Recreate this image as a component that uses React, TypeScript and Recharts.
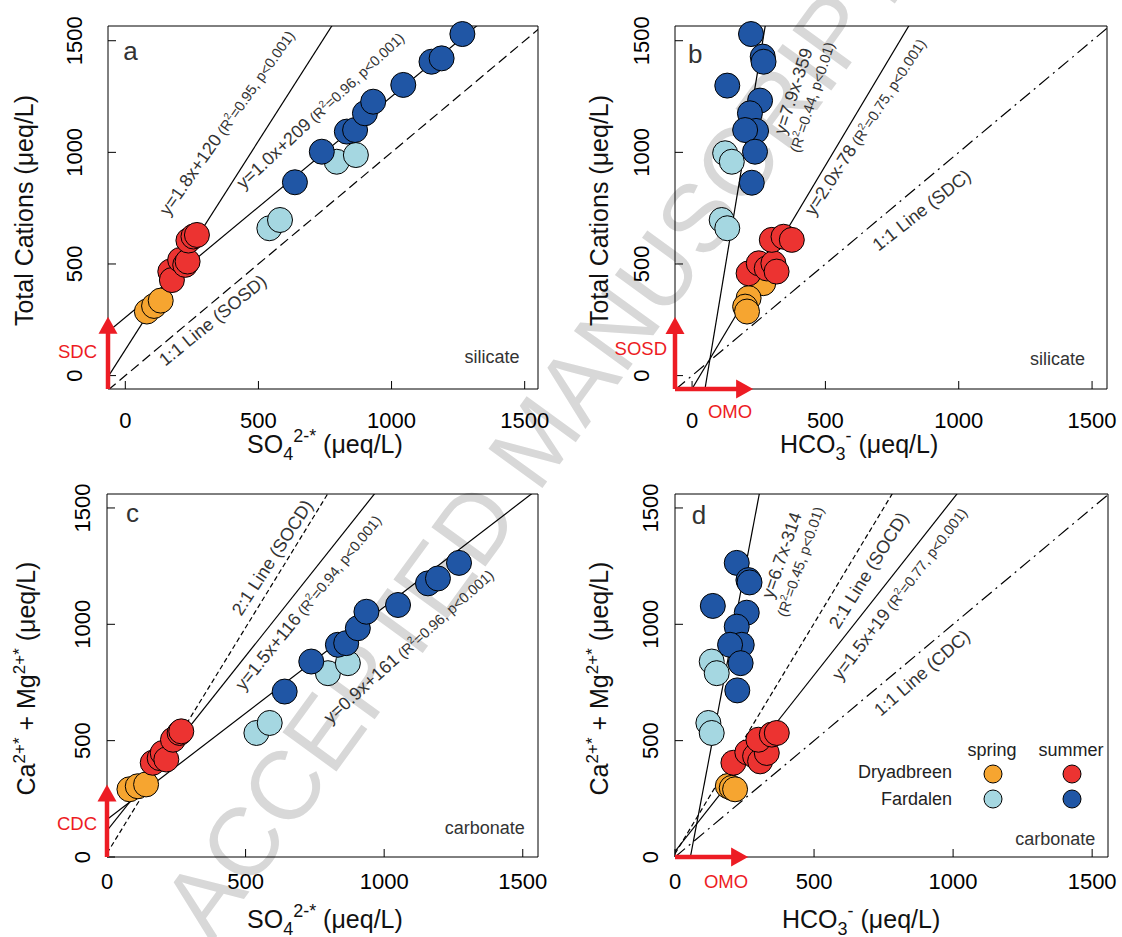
import React from 'react';
import { ScatterChart, Scatter, XAxis, YAxis, ReferenceLine, ReferenceDot, Legend } from 'recharts';

const FONT = '"Liberation Sans", Arial, Helvetica, sans-serif';
const INK = '#333333';
const ARROW_RED = '#ED1C24';

const C_DRY_SPRING = '#F6A530';
const C_DRY_SUMMER = '#EC3331';
const C_FAR_SPRING = '#A5D7E1';
const C_FAR_SUMMER = '#2056A5';

type P = { x: number; y: number };

const axisTicks = [0, 500, 1000, 1500];

// ---------- Panel a : SO4 vs Total cations ----------
const aDrySpring: P[] = [{ x: 81, y: 287 }, { x: 108, y: 312 }, { x: 133, y: 336 }];
const aDrySummer: P[] = [
  { x: 169, y: 466 }, { x: 175, y: 428 }, { x: 206, y: 518 }, { x: 225, y: 496 },
  { x: 234, y: 511 }, { x: 237, y: 605 }, { x: 256, y: 623 }, { x: 269, y: 630 },
];
const aFarSpring: P[] = [{ x: 541, y: 660 }, { x: 581, y: 697 }, { x: 794, y: 958 }, { x: 866, y: 988 }];
const aFarSummer: P[] = [
  { x: 637, y: 866 }, { x: 738, y: 1003 }, { x: 832, y: 1093 }, { x: 863, y: 1100 }, { x: 900, y: 1175 },
  { x: 931, y: 1227 }, { x: 1044, y: 1302 }, { x: 1150, y: 1406 }, { x: 1188, y: 1421 }, { x: 1266, y: 1530 },
];
const aFitDry: P[] = [{ x: -65, y: -6 }, { x: 800, y: 1612 }];
const aFitFar: P[] = [{ x: -65, y: 196 }, { x: 1400, y: 1646 }];
const aOneToOne: P[] = [{ x: -65, y: -65 }, { x: 1600, y: 1600 }];
const aArrowUp: P[] = [{ x: -65, y: -60 }, { x: -65, y: 264 }];

// ---------- Panel b : HCO3 vs Total cations ----------
const bDrySpring: P[] = [{ x: 267, y: 414 }, { x: 212, y: 347 }, { x: 199, y: 309 }, { x: 206, y: 287 }];
const bDrySummer: P[] = [
  { x: 212, y: 458 }, { x: 250, y: 503 }, { x: 280, y: 480 }, { x: 305, y: 503 },
  { x: 317, y: 466 }, { x: 299, y: 608 }, { x: 343, y: 622 }, { x: 374, y: 608 },
];
const bFarSpring: P[] = [{ x: 124, y: 996 }, { x: 149, y: 958 }, { x: 111, y: 697 }, { x: 132, y: 660 }];
const bFarSummer: P[] = [
  { x: 221, y: 1530 }, { x: 265, y: 1429 }, { x: 268, y: 1406 }, { x: 132, y: 1299 }, { x: 255, y: 1232 },
  { x: 217, y: 1175 }, { x: 240, y: 1096 }, { x: 199, y: 1100 }, { x: 236, y: 1003 }, { x: 224, y: 864 },
];
const bFitFar: P[] = [{ x: 47, y: -70 }, { x: 279, y: 1600 }];
const bFitDry: P[] = [{ x: -10, y: -79 }, { x: 840, y: 1621 }];
const bOneToOne: P[] = [{ x: -64, y: -64 }, { x: 1600, y: 1600 }];
const bArrowUp: P[] = [{ x: -64, y: -60 }, { x: -64, y: 263 }];
const bArrowRight: P[] = [{ x: -64, y: -60 }, { x: 229, y: -60 }];

// ---------- Panel c : SO4 vs Ca+Mg ----------
const cDrySpring: P[] = [{ x: 81, y: 291 }, { x: 111, y: 304 }, { x: 141, y: 312 }];
const cDrySummer: P[] = [
  { x: 165, y: 405 }, { x: 190, y: 425 }, { x: 201, y: 447 }, { x: 214, y: 419 },
  { x: 238, y: 504 }, { x: 262, y: 533 }, { x: 268, y: 540 },
];
const cFarSpring: P[] = [{ x: 539, y: 533 }, { x: 587, y: 576 }, { x: 797, y: 790 }, { x: 869, y: 833 }];
const cFarSummer: P[] = [
  { x: 641, y: 711 }, { x: 737, y: 840 }, { x: 833, y: 912 }, { x: 863, y: 919 }, { x: 905, y: 983 },
  { x: 936, y: 1054 }, { x: 1050, y: 1083 }, { x: 1158, y: 1176 }, { x: 1194, y: 1197 }, { x: 1270, y: 1264 },
];
const cTwoToOne: P[] = [{ x: 0, y: 16 }, { x: 830, y: 1626 }];
const cFitDry: P[] = [{ x: 0, y: 113 }, { x: 1010, y: 1628 }];
const cFitFar: P[] = [{ x: 0, y: 161 }, { x: 1600, y: 1623 }];
const cArrowUp: P[] = [{ x: 0, y: 0 }, { x: 0, y: 312 }];

// ---------- Panel d : HCO3 vs Ca+Mg ----------
const dDrySpring: P[] = [{ x: 190, y: 305 }, { x: 204, y: 297 }, { x: 216, y: 291 }];
const dDrySummer: P[] = [
  { x: 210, y: 405 }, { x: 260, y: 450 }, { x: 288, y: 433 }, { x: 306, y: 411 },
  { x: 330, y: 447 }, { x: 300, y: 504 }, { x: 348, y: 526 }, { x: 366, y: 533 },
];
const dFarSpring: P[] = [{ x: 132, y: 840 }, { x: 150, y: 790 }, { x: 120, y: 576 }, { x: 132, y: 533 }];
const dFarSummer: P[] = [
  { x: 222, y: 1264 }, { x: 264, y: 1190 }, { x: 268, y: 1180 }, { x: 136, y: 1079 }, { x: 258, y: 1050 },
  { x: 222, y: 990 }, { x: 240, y: 912 }, { x: 198, y: 912 }, { x: 236, y: 833 }, { x: 224, y: 716 },
];
const dFitFar: P[] = [{ x: 55, y: -2 }, { x: 311, y: 1610 }];
const dTwoToOne: P[] = [{ x: 0, y: 14 }, { x: 810, y: 1618 }];
const dFitDry: P[] = [{ x: 0, y: 24 }, { x: 1050, y: 1615 }];
const dOneToOne: P[] = [{ x: 0, y: 0 }, { x: 1600, y: 1600 }];
const dArrowRight: P[] = [{ x: 0, y: 0 }, { x: 263, y: 0 }];

const seriesNames = ['Dryadbreen spring', 'Dryadbreen summer', 'Fardalen spring', 'Fardalen summer'];
const seriesColors = [C_DRY_SPRING, C_DRY_SUMMER, C_FAR_SPRING, C_FAR_SUMMER];

type LabelSpec = {
  x: number; y: number; angle: number; main: string;
  r2?: string; p?: string; twoLine?: boolean; anchor?: 'start' | 'middle' | 'end';
  size?: number; psize?: number;
};

const Marker = (props: any) => {
  const { cx, cy, color } = props;
  if (cx == null || cy == null) return null;
  return <circle cx={cx} cy={cy} r={12.5} fill={color} stroke="#000" strokeWidth={1} />;
};

function AnnText(props: any) {
  const { viewBox, spec } = props;
  if (!viewBox || !spec) return null;
  const s: LabelSpec = spec;
  const cx = viewBox.x + (viewBox.width || 0) / 2;
  const cy = viewBox.y + (viewBox.height || 0) / 2;
  const size = s.size ?? 18;
  const ps = s.psize ?? 14.5;
  const paren = (r2: string, p: string) => [
    <tspan key="a">{'(R'}</tspan>,
    <tspan key="b" dy={-6} fontSize={ps * 0.68}>2</tspan>,
    <tspan key="c" dy={6}>{`=${r2}, p<${p})`}</tspan>,
  ];
  if (s.twoLine && s.r2 && s.p) {
    return (
      <g transform={`translate(${cx},${cy}) rotate(${s.angle})`}>
        <text textAnchor="middle" fontFamily={FONT} fill={INK}>
          <tspan x={0} y={0} fontSize={size}>{s.main}</tspan>
          <tspan x={0} y={19} fontSize={ps}>{paren(s.r2, s.p)}</tspan>
        </text>
      </g>
    );
  }
  return (
    <g transform={`translate(${cx},${cy}) rotate(${s.angle})`}>
      <text textAnchor={s.anchor ?? 'start'} fontFamily={FONT} fill={INK} fontSize={size}>
        {s.main}
        {s.r2 && s.p ? (
          <tspan fontSize={ps}>
            {' '}
            {paren(s.r2, s.p)}
          </tspan>
        ) : null}
      </text>
    </g>
  );
}

const XTick = (props: any) => {
  const { x, y, payload } = props;
  return (
    <text x={x} y={y} textAnchor="middle" fontSize={22} fontFamily={FONT} fill="#000">
      {payload.value}
    </text>
  );
};

const YTick = (props: any) => {
  const { x, y, payload } = props;
  return (
    <text x={x} y={y} transform={`rotate(-90 ${x} ${y})`} textAnchor="middle" fontSize={22} fontFamily={FONT} fill="#000">
      {payload.value}
    </text>
  );
};

function XTitle(props: any) {
  const { viewBox, kind, dx, dy } = props;
  if (!viewBox) return null;
  const x = viewBox.x + dx;
  const y = viewBox.y + dy;
  if (kind === 'so4') {
    return (
      <text x={x} y={y} fontSize={25} fontFamily={FONT} fill="#111">
        SO<tspan dy={7} fontSize={18}>4</tspan>
        <tspan dy={-18} fontSize={18}>2-*</tspan>
        <tspan dy={11}>{' (\u03bceq/L)'}</tspan>
      </text>
    );
  }
  return (
    <text x={x} y={y} fontSize={25} fontFamily={FONT} fill="#111">
      HCO<tspan dy={7} fontSize={18}>3</tspan>
      <tspan dy={-18} fontSize={18}>-</tspan>
      <tspan dy={11}>{' (\u03bceq/L)'}</tspan>
    </text>
  );
}

function YTitle(props: any) {
  const { viewBox, kind, dx } = props;
  if (!viewBox) return null;
  const x = viewBox.x + viewBox.width + dx;
  const y = viewBox.y + viewBox.height / 2 + 3;
  if (kind === 'tc') {
    return (
      <text x={x} y={y} transform={`rotate(-90 ${x} ${y})`} textAnchor="middle" fontSize={25} fontFamily={FONT} fill="#111">
        {'Total Cations (\u03bceq/L)'}
      </text>
    );
  }
  return (
    <text x={x} y={y} transform={`rotate(-90 ${x} ${y})`} textAnchor="middle" fontSize={25} fontFamily={FONT} fill="#111">
      Ca<tspan dy={-10} fontSize={17}>2+*</tspan>
      <tspan dy={10}>{' + Mg'}</tspan>
      <tspan dy={-10} fontSize={17}>2+*</tspan>
      <tspan dy={10}>{' (\u03bceq/L)'}</tspan>
    </text>
  );
}

const ArrowShape = (props: any) => {
  const { x1, y1, x2, y2, spec } = props;
  if ([x1, y1, x2, y2].some((v) => v == null || isNaN(v))) return null;
  const dx = x2 - x1;
  const dy = y2 - y1;
  const len = Math.hypot(dx, dy) || 1;
  const ux = dx / len;
  const uy = dy / len;
  const hl = 17;
  const hw = 9.5;
  const bx = x2 - ux * hl;
  const by = y2 - uy * hl;
  const px = -uy;
  const py = ux;
  return (
    <g>
      <line x1={x1} y1={y1} x2={bx + ux} y2={by + uy} stroke={ARROW_RED} strokeWidth={4.5} />
      <polygon points={`${x2},${y2} ${bx + px * hw},${by + py * hw} ${bx - px * hw},${by - py * hw}`} fill={ARROW_RED} />
      <text x={x1 + spec.tdx} y={y1 + spec.tdy} textAnchor={spec.anchor} fontSize={18.5} fontFamily={FONT} fill={ARROW_RED}>
        {spec.text}
      </text>
    </g>
  );
};

function LegendBox() {
  const t = { fontSize: 18, fontFamily: FONT, fill: '#222' } as any;
  return (
    <svg width={260} height={80} style={{ overflow: 'visible', display: 'block' }}>
      <text x={142} y={18} textAnchor="middle" {...t}>spring</text>
      <text x={221} y={18} textAnchor="middle" {...t}>summer</text>
      <text x={102} y={40} textAnchor="end" {...t}>Dryadbreen</text>
      <text x={102} y={67} textAnchor="end" {...t}>Fardalen</text>
      <circle cx={143} cy={36} r={9} fill={C_DRY_SPRING} stroke="#000" strokeWidth={1} />
      <circle cx={222} cy={36} r={9} fill={C_DRY_SUMMER} stroke="#000" strokeWidth={1} />
      <circle cx={143} cy={61} r={9} fill={C_FAR_SPRING} stroke="#000" strokeWidth={1} />
      <circle cx={222} cy={61} r={9} fill={C_FAR_SUMMER} stroke="#000" strokeWidth={1} />
    </svg>
  );
}

type ArrowSpec = { pts: P[]; text: string; tdx: number; tdy: number; anchor: string };

type PanelProps = {
  left: number; top: number; w: number; h: number;
  xDomain: [number, number]; yDomain: [number, number];
  data: P[][];
  lines: { pts: P[]; dash?: string }[];
  labels: LabelSpec[];
  arrows: ArrowSpec[];
  xTickMargin: number; yTickMargin: number;
  xKind: string; xDx: number; xDy: number;
  yKind: string; yDx: number;
  legend?: boolean;
};

function Panel(pp: PanelProps) {
  const W = pp.w + 120;
  const H = pp.h + 100;
  return (
    <div style={{ position: 'absolute', left: pp.left - 100, top: pp.top - 20 }}>
      <ScatterChart width={W} height={H} margin={{ top: 19, right: 19, bottom: 0, left: 0 }}>
        <XAxis
          type="number" dataKey="x" domain={pp.xDomain} ticks={axisTicks} interval={0} height={80}
          tickSize={-8} tickMargin={pp.xTickMargin} tick={(p: any) => <XTick {...p} />}
          axisLine={{ stroke: '#000', strokeWidth: 1 }} tickLine={{ stroke: '#000', strokeWidth: 1 }}
          label={<XTitle kind={pp.xKind} dx={pp.xDx} dy={pp.xDy} />}
        />
        <XAxis
          xAxisId="top" orientation="top" type="number" domain={pp.xDomain} allowDataOverflow ticks={axisTicks}
          interval={0} height={1} tickSize={-8} tick={false}
          axisLine={{ stroke: '#000', strokeWidth: 1 }} tickLine={{ stroke: '#000', strokeWidth: 1 }}
        />
        <YAxis
          type="number" dataKey="y" domain={pp.yDomain} ticks={axisTicks} interval={0} width={100}
          tickSize={-8} tickMargin={pp.yTickMargin} tick={(p: any) => <YTick {...p} />}
          axisLine={{ stroke: '#000', strokeWidth: 1 }} tickLine={{ stroke: '#000', strokeWidth: 1 }}
          label={<YTitle kind={pp.yKind} dx={pp.yDx} />}
        />
        <YAxis
          yAxisId="right" orientation="right" type="number" domain={pp.yDomain} allowDataOverflow ticks={axisTicks}
          interval={0} width={1} tickSize={-8} tick={false}
          axisLine={{ stroke: '#000', strokeWidth: 1 }} tickLine={{ stroke: '#000', strokeWidth: 1 }}
        />
        {pp.lines.map((l, i) => (
          <ReferenceLine
            key={`l${i}`} segment={l.pts} ifOverflow="hidden" stroke="#000" strokeWidth={1.2}
            strokeDasharray={l.dash} zIndex={450}
          />
        ))}
        {pp.data.map((d, i) => (
          <Scatter
            key={`s${i}`} name={seriesNames[i]} data={d} fill={seriesColors[i]} isAnimationActive={false}
            shape={(p: any) => <Marker {...p} color={seriesColors[i]} />}
          />
        ))}
        {pp.arrows.map((a, i) => (
          <ReferenceLine
            key={`a${i}`} segment={a.pts} ifOverflow="visible" zIndex={1500}
            shape={(p: any) => <ArrowShape {...p} spec={a} />}
          />
        ))}
        {pp.labels.map((s, i) => (
          <ReferenceDot
            key={`t${i}`} x={s.x} y={s.y} r={0} ifOverflow="visible" fill="none" stroke="none"
            label={<AnnText spec={s} />}
          />
        ))}
        {pp.legend ? (
          <Legend
            layout="horizontal" verticalAlign="middle" align="center"
            content={() => <LegendBox />}
            wrapperStyle={{ position: 'absolute', left: 275, top: 264, width: 260, height: 80 }}
          />
        ) : null}
      </ScatterChart>
    </div>
  );
}

export default function App() {
  return (
    <div style={{ position: 'absolute', left: 0, top: 0, width: 1122, height: 937, background: '#fff', overflow: 'hidden' }}>
      <svg width={1122} height={937} style={{ position: 'absolute', left: 0, top: 0 }}>
        <text
          x={536} y={440} transform="rotate(-54 536 440)" textAnchor="middle" dominantBaseline="central"
          fontSize={97} fontFamily={FONT} fill="#d8d8d8"
        >
          ACCEPTED MANUSCRIPT
        </text>
      </svg>

      <Panel
        left={108} top={26} w={430} h={363} xDomain={[-65, 1550]} yDomain={[-60, 1566]}
        data={[aDrySpring, aDrySummer, aFarSpring, aFarSummer]}
        lines={[{ pts: aFitDry }, { pts: aFitFar }, { pts: aOneToOne, dash: '10 5' }]}
        labels={[
          { x: 162, y: 712, angle: -55, main: 'y=1.8x+120', r2: '0.95', p: '0.001' },
          { x: 444, y: 831, angle: -43, main: 'y=1.0x+209', r2: '0.96', p: '0.001' },
          { x: 150, y: 40, angle: -39, main: '1:1 Line (SOSD)' },
          { x: -8, y: 1414, angle: 0, main: 'a', size: 26 },
          { x: 1481, y: 57, angle: 0, main: 'silicate', anchor: 'end' },
        ]}
        arrows={[{ pts: aArrowUp, text: 'SDC', tdx: -11, tdy: -31, anchor: 'end' }]}
        xTickMargin={47} yTickMargin={34} xKind="so4" xDx={139} xDy={64} yKind="tc" yDx={-75}
      />

      <Panel
        left={675} top={26} w={432} h={363} xDomain={[-64, 1556]} yDomain={[-60, 1566]}
        data={[bDrySpring, bDrySummer, bFarSpring, bFarSummer]}
        lines={[{ pts: bFitFar }, { pts: bFitDry }, { pts: bOneToOne, dash: '13 5 2 5' }]}
        labels={[
          { x: 401, y: 1266, angle: -72, main: 'y=7.9x-359', r2: '0.44', p: '0.01', twoLine: true },
          { x: 457, y: 712, angle: -57, main: 'y=2.0x-78', r2: '0.75', p: '0.001' },
          { x: 699, y: 555, angle: -38, main: '1:1 Line (SDC)' },
          { x: -15, y: 1400, angle: 0, main: 'b', size: 26 },
          { x: 1474, y: 48, angle: 0, main: 'silicate', anchor: 'end' },
        ]}
        arrows={[
          { pts: bArrowUp, text: 'SOSD', tdx: -8, tdy: -34, anchor: 'end' },
          { pts: bArrowRight, text: 'OMO', tdx: 55, tdy: 29, anchor: 'middle' },
        ]}
        xTickMargin={47} yTickMargin={34} xKind="hco3" xDx={105} xDy={64} yKind="tc" yDx={-67}
      />

      <Panel
        left={107} top={494} w={431} h={363} xDomain={[0, 1555]} yDomain={[0, 1560]}
        data={[cDrySpring, cDrySummer, cFarSpring, cFarSummer]}
        lines={[{ pts: cTwoToOne, dash: '5 3' }, { pts: cFitDry }, { pts: cFitFar }]}
        labels={[
          { x: 484, y: 1033, angle: -57, main: '2:1 Line (SOCD)' },
          { x: 493, y: 711, angle: -51, main: 'y=1.5x+116', r2: '0.94', p: '0.001' },
          { x: 806, y: 569, angle: -42, main: 'y=0.9x+161', r2: '0.96', p: '0.001' },
          { x: 69, y: 1440, angle: 0, main: 'c', size: 26 },
          { x: 1507, y: 97, angle: 0, main: 'carbonate', anchor: 'end' },
        ]}
        arrows={[{ pts: cArrowUp, text: 'CDC', tdx: -10, tdy: -27, anchor: 'end' }]}
        xTickMargin={40} yTickMargin={25} xKind="so4" xDx={140} xDy={71} yKind="camg" yDx={-72}
      />

      <Panel
        left={675} top={494} w={433} h={363} xDomain={[0, 1557]} yDomain={[0, 1560]}
        data={[dDrySpring, dDrySummer, dFarSpring, dFarSummer]}
        lines={[{ pts: dFitFar }, { pts: dTwoToOne, dash: '5 3' }, { pts: dFitDry }, { pts: dOneToOne, dash: '13 5 2 5' }]}
        labels={[
          { x: 404, y: 1289, angle: -71, main: 'y=6.7x-314', r2: '0.45', p: '0.01', twoLine: true },
          { x: 588, y: 976, angle: -58, main: '2:1 Line (SOCD)' },
          { x: 596, y: 754, angle: -53, main: 'y=1.5x+19', r2: '0.77', p: '0.001' },
          { x: 740, y: 602, angle: -41, main: '1:1 Line (CDC)' },
          { x: 60, y: 1430, angle: 0, main: 'd', size: 26 },
          { x: 1511, y: 50, angle: 0, main: 'carbonate', anchor: 'end' },
        ]}
        arrows={[{ pts: dArrowRight, text: 'OMO', tdx: 51, tdy: 31, anchor: 'middle' }]}
        xTickMargin={40} yTickMargin={25} xKind="hco3" xDx={107} xDy={71} yKind="camg" yDx={-67}
        legend
      />
    </div>
  );
}
